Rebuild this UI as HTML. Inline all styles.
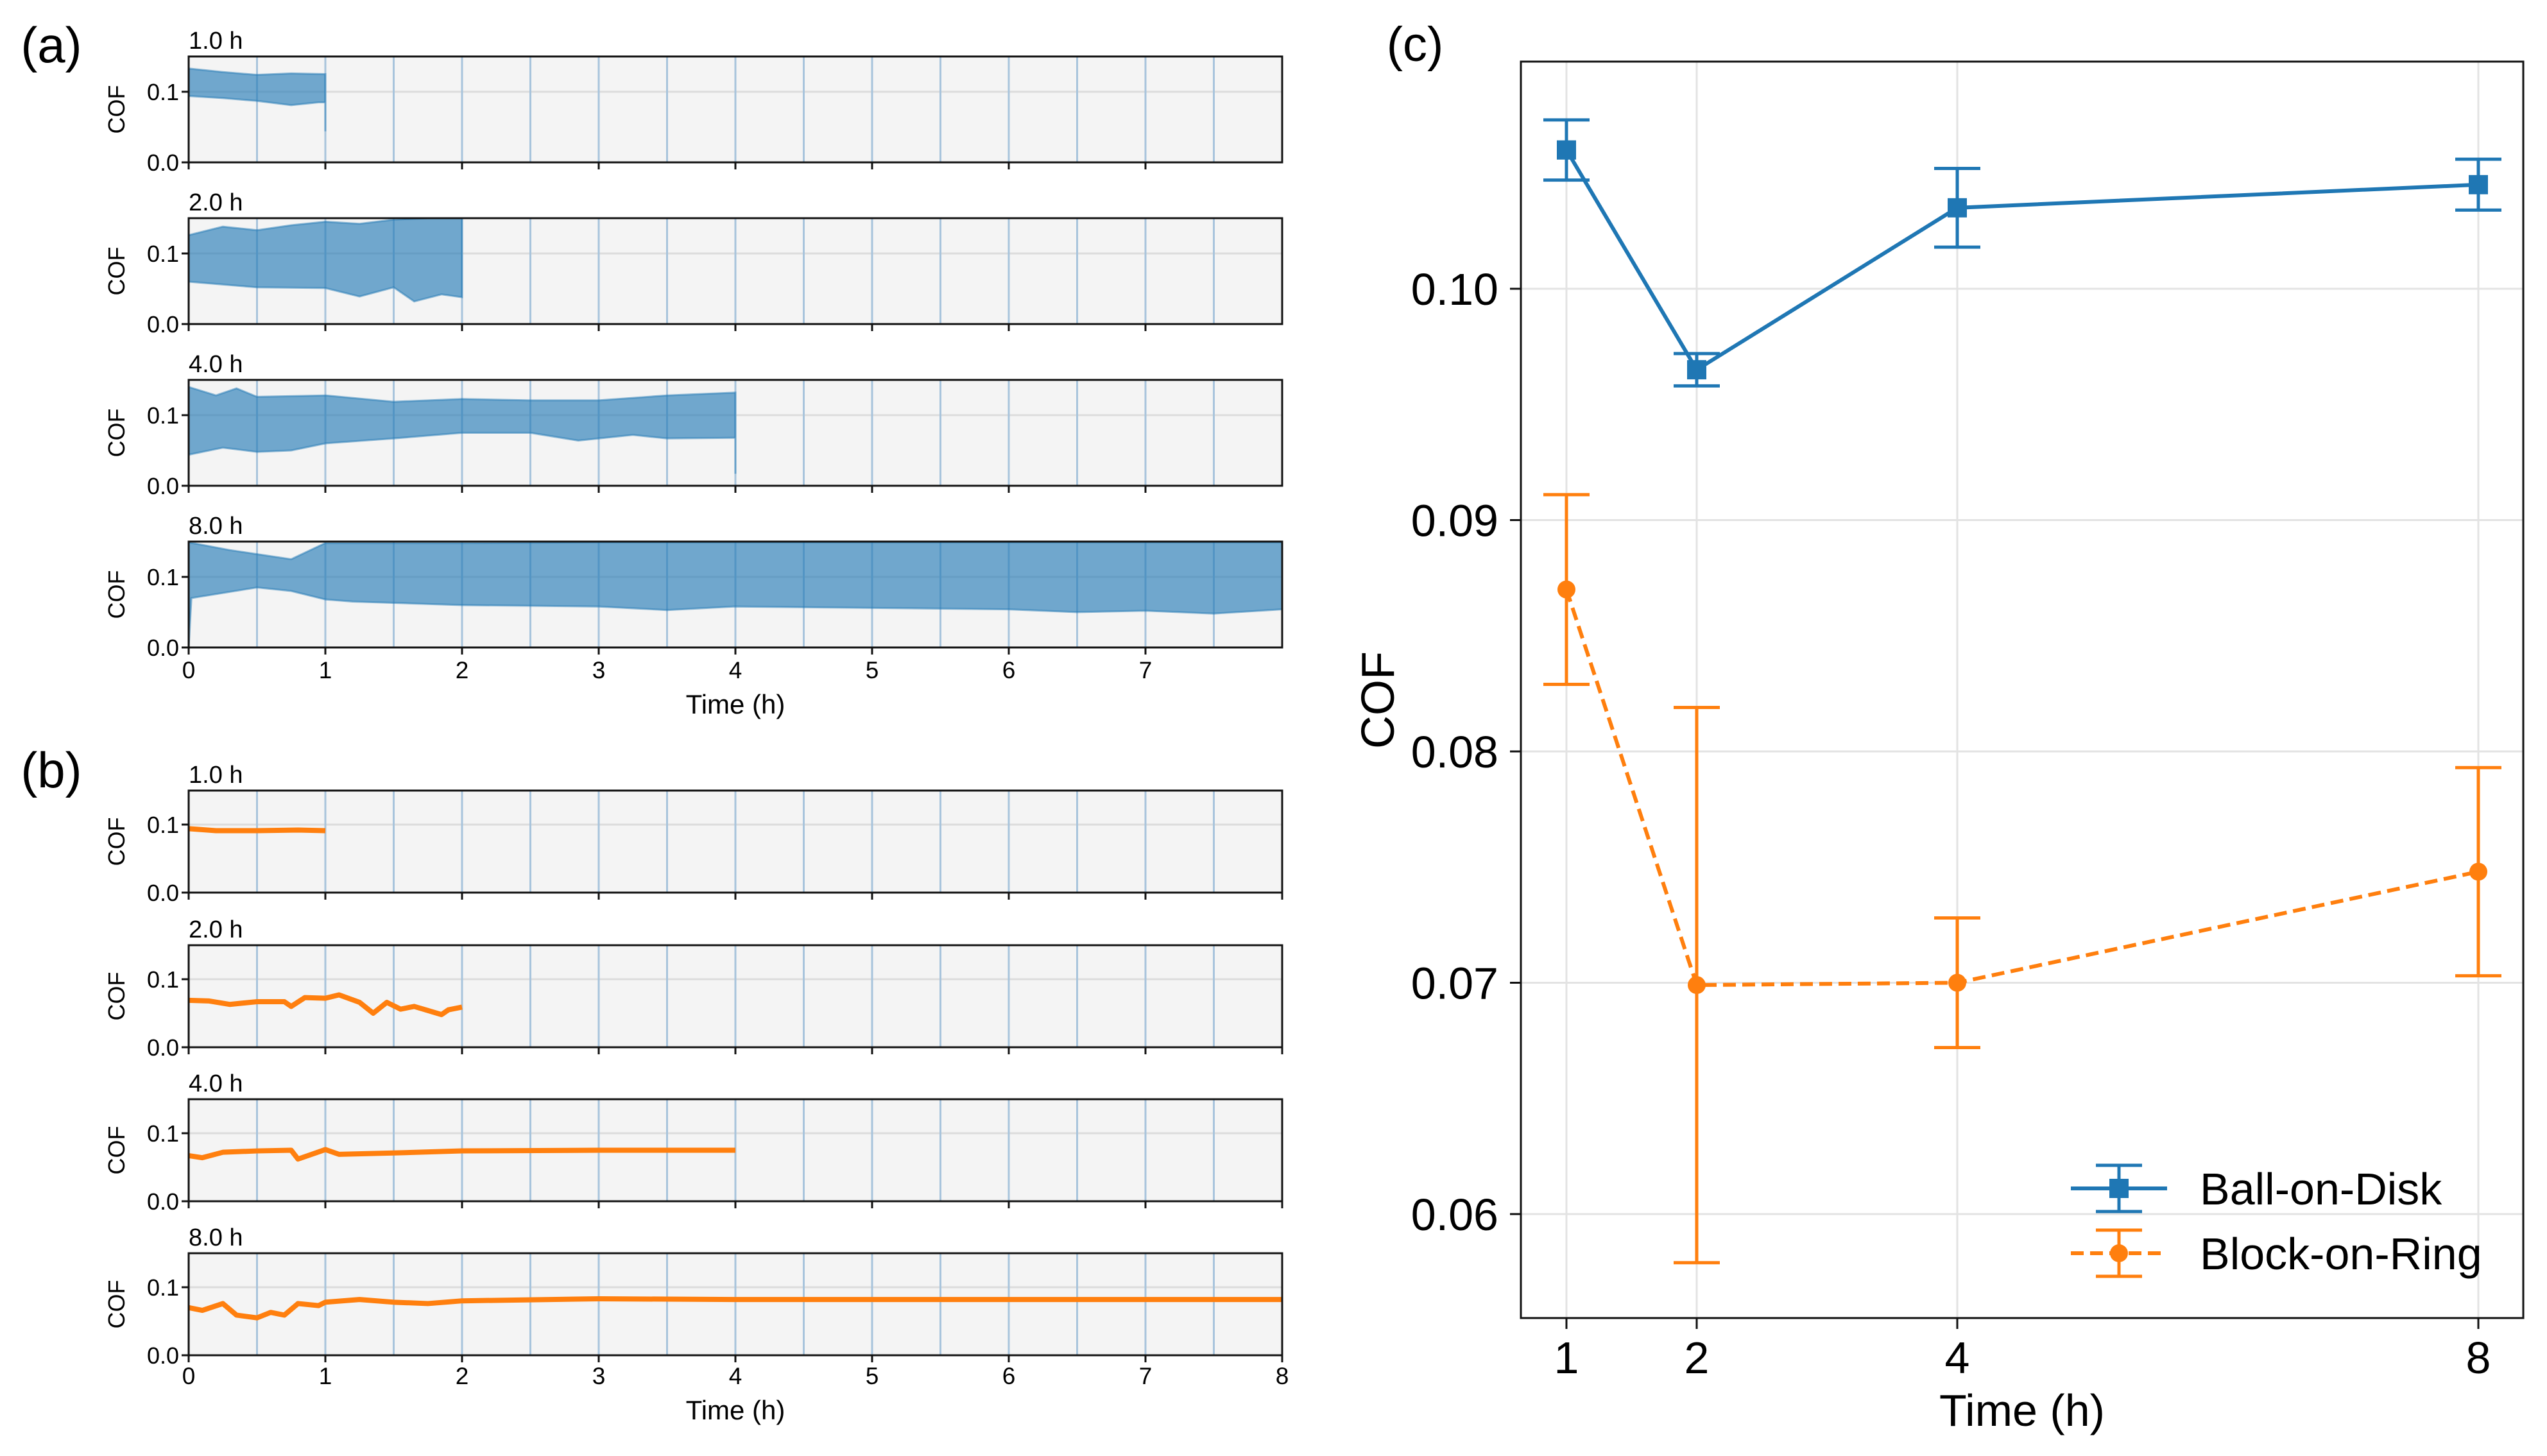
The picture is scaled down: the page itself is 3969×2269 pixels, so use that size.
<!DOCTYPE html>
<html><head><meta charset="utf-8">
<style>
html,body{margin:0;padding:0;background:#fff;}
svg{display:block;font-family:"Liberation Sans",sans-serif;}
</style></head>
<body>
<svg id="fig" width="3969" height="2269" viewBox="0 0 3969 2269" xmlns="http://www.w3.org/2000/svg">
<rect width="3969" height="2269" fill="#fff"/>
<text x="80" y="97" font-size="78" text-anchor="middle">(a)</text>
<text x="80" y="1227" font-size="78" text-anchor="middle">(b)</text>
<text x="2205" y="95" font-size="76" text-anchor="middle">(c)</text>
<g id="pa"></g>
<g id="pb"></g>
<g id="pc"></g>
</svg>
<script>
// ---------- data ----------
const durations = [1, 2, 4, 8];
const durationTitles = ["1.0 h", "2.0 h", "4.0 h", "8.0 h"];
// panel (a) ball-on-disk envelopes: [time h, COF]
const aUpper1 = [[0,0.133],[0.25,0.128],[0.5,0.124],[0.75,0.126],[1,0.125]];
const aLower1 = [[0,0.094],[0.25,0.091],[0.5,0.087],[0.75,0.081],[0.95,0.085],[1,0.085],[1,0.044]];
const aUpper2 = [[0,0.126],[0.25,0.138],[0.5,0.133],[0.75,0.140],[1,0.145],[1.25,0.142],[1.5,0.148],[1.75,0.150],[2,0.150]];
const aLower2 = [[0,0.060],[0.25,0.056],[0.5,0.052],[1,0.051],[1.25,0.039],[1.5,0.052],[1.65,0.032],[1.85,0.042],[2,0.038]];
const aUpper3 = [[0,0.140],[0.2,0.128],[0.35,0.138],[0.5,0.126],[1,0.128],[1.5,0.119],[2,0.123],[2.5,0.121],[3,0.121],[3.5,0.128],[4,0.132]];
const aLower3 = [[0,0.044],[0.25,0.054],[0.5,0.048],[0.75,0.050],[1,0.060],[1.5,0.067],[2,0.075],[2.5,0.075],[2.85,0.064],[3.25,0.072],[3.5,0.067],[4,0.068],[4,0.017]];
const aUpper4 = [[0,0.149],[0.3,0.138],[0.75,0.125],[1,0.148],[2,0.148],[3,0.149],[4,0.149],[5,0.149],[6,0.149],[7,0.149],[8,0.149]];
const aLower4 = [[0,0.0],[0.02,0.070],[0.5,0.085],[0.75,0.080],[1,0.068],[1.2,0.065],[2,0.060],[3,0.058],[3.5,0.053],[4,0.058],[5,0.056],[6,0.054],[6.5,0.050],[7,0.052],[7.5,0.048],[8,0.054]];
// panel (b) block-on-ring traces
const bSeries1 = [[0,0.094],[0.2,0.091],[0.5,0.091],[0.8,0.092],[1,0.091]];
const bSeries2 = [[0,0.069],[0.15,0.068],[0.3,0.063],[0.5,0.067],[0.7,0.067],[0.75,0.060],[0.85,0.073],[1,0.072],[1.1,0.077],[1.25,0.066],[1.35,0.050],[1.45,0.066],[1.55,0.056],[1.65,0.060],[1.75,0.054],[1.85,0.048],[1.9,0.055],[2,0.059]];
const bSeries3 = [[0,0.067],[0.1,0.064],[0.25,0.072],[0.5,0.074],[0.75,0.075],[0.8,0.062],[0.9,0.069],[1,0.076],[1.1,0.069],[1.5,0.071],[2,0.074],[3,0.075],[4,0.075]];
const bSeries4 = [[0,0.070],[0.1,0.066],[0.25,0.076],[0.35,0.059],[0.5,0.055],[0.6,0.063],[0.7,0.059],[0.8,0.076],[0.95,0.073],[1,0.078],[1.25,0.082],[1.5,0.078],[1.75,0.076],[2,0.080],[3,0.083],[4,0.082],[5,0.082],[6,0.082],[7,0.082],[8,0.082]];
// panel (c)
const cTimes = [1, 2, 4, 8];
const ballMean = [0.1060, 0.0965, 0.1035, 0.1045];
const ballErr = [0.0013, 0.0007, 0.0017, 0.0011];
const blockMean = [0.0870, 0.0699, 0.0700, 0.0748];
const blockErr = [0.0041, 0.0120, 0.0028, 0.0045];
const cYTicks = [0.06, 0.07, 0.08, 0.09, 0.10];
const cYTickLabels = ["0.06", "0.07", "0.08", "0.09", "0.10"];
const smallYTicks = [0.0, 0.1];
const smallYTickLabels = ["0.0", "0.1"];

// ---------- helpers ----------
const NS = "http://www.w3.org/2000/svg";
function mk(parent, tag, attrs){ const e=document.createElementNS(NS,tag); for(const k in attrs) e.setAttribute(k,attrs[k]); parent.appendChild(e); return e; }
const BLUE="#1f77b4", ORANGE="#ff7f0e";

function smallPanel(g, top, h, xTicks, fillUp, fillLow, line, title, isBottom, tickLabelY, name){
  const L=294, R=1998, xmax=8, ymax=0.15;
  const sx=t=>L+(R-L)*t/xmax, sy=v=>top+h-h*v/ymax;
  const ax=mk(g,"g",{});
  
  
  mk(ax,"rect",{x:L,y:top,width:R-L,height:h,fill:"#f4f4f4"});
  mk(ax,"line",{x1:L,x2:R,y1:sy(0.1),y2:sy(0.1),stroke:"#dcdcdc","stroke-width":3});
  for(let t=0.5;t<xmax;t+=0.5){ mk(ax,"line",{x1:sx(t),x2:sx(t),y1:top,y2:top+h,stroke:"#a8c4dc","stroke-width":3}); }
  if(fillUp){
    let pts=fillUp.map(p=>sx(p[0])+","+sy(p[1]));
    pts=pts.concat(fillLow.slice().reverse().map(p=>sx(p[0])+","+sy(p[1])));
    const poly=mk(ax,"polygon",{points:pts.join(" "),fill:BLUE,"fill-opacity":0.62,stroke:BLUE,"stroke-opacity":0.5,"stroke-width":3});
    
    
  }
  if(line){
    const pl=mk(ax,"polyline",{points:line.map(p=>sx(p[0])+","+sy(p[1])).join(" "),fill:"none",stroke:ORANGE,"stroke-width":8,"stroke-linejoin":"round"});
    
    
  }
  mk(ax,"rect",{x:L,y:top,width:R-L,height:h,fill:"none",stroke:"#111","stroke-width":3});
  smallYTicks.forEach((v,i)=>{
    mk(ax,"line",{x1:L-11,x2:L,y1:sy(v),y2:sy(v),stroke:"#111","stroke-width":3});
    const t=mk(ax,"text",{x:L-15,y:sy(v)+13,"font-size":36,"text-anchor":"end"}); t.textContent=smallYTickLabels[i];
  });
  const yl=mk(ax,"text",{x:0,y:0,"font-size":36,"text-anchor":"middle",transform:`translate(194,${top+h/2}) rotate(-90)`}); yl.textContent="COF";
  
  
  const tt=mk(ax,"text",{x:L,y:top-12,"font-size":38}); tt.textContent=title;
  
  
  xTicks.forEach(t=>{
    mk(ax,"line",{x1:sx(t),x2:sx(t),y1:top+h,y2:top+h+11,stroke:"#111","stroke-width":3});
    if(isBottom){ const tl=mk(ax,"text",{x:sx(t),y:tickLabelY,"font-size":37,"text-anchor":"middle"}); tl.textContent=String(t); }
  });
  if(isBottom){
    const xl=mk(ax,"text",{x:(L+R)/2,y:tickLabelY+55,"font-size":42,"text-anchor":"middle"}); xl.textContent="Time (h)";
    
    
  }
}

const pa=document.getElementById("pa"), pb=document.getElementById("pb");
const aTops=[88,340,592,844], aH=165;
const aUp=[aUpper1,aUpper2,aUpper3,aUpper4], aLo=[aLower1,aLower2,aLower3,aLower4];
aTops.forEach((t,i)=>smallPanel(pa,t,aH,[0,1,2,3,4,5,6,7],aUp[i],aLo[i],null,durationTitles[i],i===3,1057,"ball-on-disk-"+durations[i]+"h"));
const bTops=[1232,1473,1713,1953], bH=159;
const bS=[bSeries1,bSeries2,bSeries3,bSeries4];
bTops.forEach((t,i)=>smallPanel(pb,t,bH,[0,1,2,3,4,5,6,7,8],null,null,bS[i],durationTitles[i],i===3,2157,"block-on-ring-"+durations[i]+"h"));

// ---------- panel c ----------
(function(){
  const g=document.getElementById("pc");
  const L=2370,R=3932,T=96,B=2054;
  const sx=t=>2441+(t-1)*203.0;
  const sy=v=>450+(0.10-v)*36050;
  cTimes.forEach(t=>mk(g,"line",{x1:sx(t),x2:sx(t),y1:T,y2:B,stroke:"#e3e3e3","stroke-width":3}));
  cYTicks.forEach(v=>mk(g,"line",{x1:L,x2:R,y1:sy(v),y2:sy(v),stroke:"#e3e3e3","stroke-width":3}));
  function series(mean,err,color,dash,marker,name){
    const sg=mk(g,"g",{});
    
    
    const attrs={points:cTimes.map((t,i)=>sx(t)+","+sy(mean[i])).join(" "),fill:"none",stroke:color,"stroke-width":6};
    if(dash) attrs["stroke-dasharray"]=dash;
    mk(sg,"polyline",attrs);
    cTimes.forEach((t,i)=>{
      const x=sx(t), y1=sy(mean[i]+err[i]), y2=sy(mean[i]-err[i]);
      const eb=mk(sg,"g",{});
      
      
      mk(eb,"line",{x1:x,x2:x,y1:y1,y2:y2,stroke:color,"stroke-width":5});
      mk(eb,"line",{x1:x-36,x2:x+36,y1:y1,y2:y1,stroke:color,"stroke-width":5});
      mk(eb,"line",{x1:x-36,x2:x+36,y1:y2,y2:y2,stroke:color,"stroke-width":5});
      let m;
      if(marker==="s") m=mk(sg,"rect",{x:x-15,y:sy(mean[i])-15,width:30,height:30,fill:color});
      else m=mk(sg,"circle",{cx:x,cy:sy(mean[i]),r:14,fill:color});
      
      
    });
  }
  series(ballMean,ballErr,BLUE,null,"s","ball-on-disk-series");
  series(blockMean,blockErr,ORANGE,"20,10","o","block-on-ring-series");
  mk(g,"rect",{x:L,y:T,width:R-L,height:B-T,fill:"none",stroke:"#111","stroke-width":3});
  cYTicks.forEach((v,i)=>{
    mk(g,"line",{x1:L-17,x2:L,y1:sy(v),y2:sy(v),stroke:"#111","stroke-width":3});
    const t=mk(g,"text",{x:2335,y:sy(v)+25,"font-size":70,"text-anchor":"end"}); t.textContent=cYTickLabels[i];
  });
  cTimes.forEach(t=>{
    mk(g,"line",{x1:sx(t),x2:sx(t),y1:B,y2:B+17,stroke:"#111","stroke-width":3});
    const tl=mk(g,"text",{x:sx(t),y:2140,"font-size":70,"text-anchor":"middle"}); tl.textContent=String(t);
  });
  const xl=mk(g,"text",{x:(L+R)/2,y:2222,"font-size":70,"text-anchor":"middle"}); xl.textContent="Time (h)";
  
  
  const yl=mk(g,"text",{x:0,y:0,"font-size":72,"text-anchor":"middle",transform:"translate(2172,1091) rotate(-90)"}); yl.textContent="COF";
  
  
  const lg=mk(g,"g",{});
  
  
  [[BLUE,null,"s","Ball-on-Disk",1852],[ORANGE,"20,10","o","Block-on-Ring",1953]].forEach(e=>{
    const [c,d,m,label,y]=e;
    const le=mk(lg,"g",{});
    
    
    const a={x1:3227,x2:3377,y1:y,y2:y,stroke:c,"stroke-width":6}; if(d) a["stroke-dasharray"]=d;
    mk(le,"line",a);
    mk(le,"line",{x1:3302,x2:3302,y1:y-36,y2:y+36,stroke:c,"stroke-width":5});
    mk(le,"line",{x1:3266,x2:3338,y1:y-36,y2:y-36,stroke:c,"stroke-width":5});
    mk(le,"line",{x1:3266,x2:3338,y1:y+36,y2:y+36,stroke:c,"stroke-width":5});
    if(m==="s") mk(le,"rect",{x:3287,y:y-15,width:30,height:30,fill:c}); else mk(le,"circle",{cx:3302,cy:y,r:14,fill:c});
    const t=mk(le,"text",{x:3428,y:y+25,"font-size":70}); t.textContent=label;
  });
})();
</script>
</body></html>
